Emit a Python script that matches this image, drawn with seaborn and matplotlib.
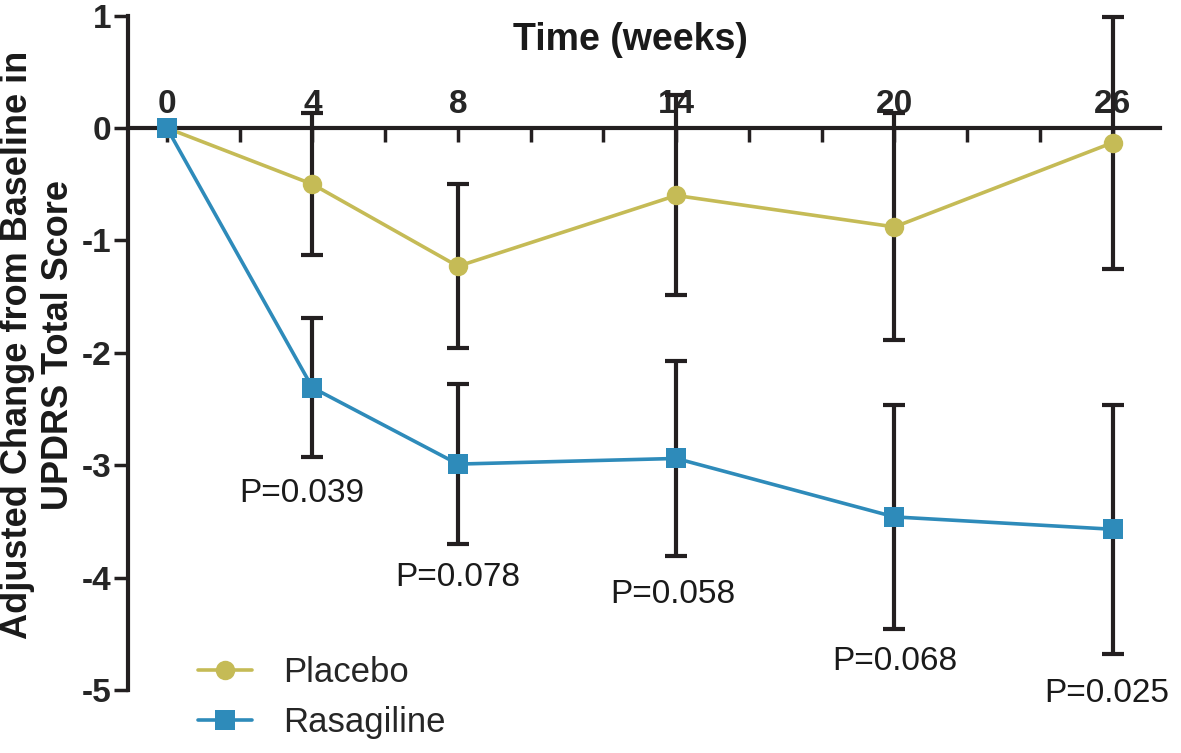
import numpy as np
import pandas as pd
import seaborn as sns
import matplotlib.pyplot as plt

weeks = [0, 4, 8, 14, 20, 26]
groups = ['Placebo', 'Rasagiline']
placebo_mean = [0, -0.50, -1.23, -0.60, -0.88, -0.13]
placebo_se = [0, 0.63, 0.73, 0.89, 1.01, 1.12]
rasagiline_mean = [0, -2.31, -2.99, -2.94, -3.46, -3.57]
rasagiline_se = [0, 0.62, 0.71, 0.87, 1.00, 1.11]
p_labels = ['P=0.039', 'P=0.078', 'P=0.058', 'P=0.068', 'P=0.025']
p_pos = [(3.7, -3.25), (8.0, -4.0), (13.9, -4.15), (20.0, -4.75), (25.85, -5.03)]
y_ticks = [1, 0, -1, -2, -3, -4, -5]

df = pd.DataFrame({
    'week': weeks * 2,
    'change': placebo_mean + rasagiline_mean,
    'group': [groups[0]] * len(weeks) + [groups[1]] * len(weeks),
})

sns.set_style('ticks')
plt.rcParams['font.family'] = ['Liberation Sans', 'DejaVu Sans']

colors = {'Placebo': '#C5BB56', 'Rasagiline': '#2E8BBA'}
black = '#231F20'

fig = plt.figure(figsize=(11.81, 7.53), dpi=100)
ax = fig.add_axes([0.1084, 0.0016, 0.8738, 0.9806])

sns.lineplot(data=df, x='week', y='change', hue='group', style='group',
             hue_order=groups, palette=colors, markers={'Placebo': 'o', 'Rasagiline': 's'},
             dashes=False, markersize=14, markeredgewidth=0, linewidth=2.6,
             ax=ax, zorder=4)

for mean, se in [(placebo_mean, placebo_se), (rasagiline_mean, rasagiline_se)]:
    ax.errorbar(weeks[1:], mean[1:], yerr=se[1:], fmt='none', ecolor=black,
                elinewidth=3, capsize=8, capthick=3, zorder=3)

for txt, (x, y) in zip(p_labels, p_pos):
    ax.text(x, y, txt, ha='center', va='center', fontsize=24, color='#1a1a1a')

ax.set_xlim(-1.07, 27.30)
ax.set_ylim(-5.55, 1.02)

# x axis sits on y=0, labels above, ticks pointing down
ax.spines['bottom'].set_visible(False)
ax.spines['right'].set_visible(False)
ax.spines['top'].set_position(('data', 0))
ax.spines['left'].set_bounds(-5, 1)
for s in ['top', 'left']:
    ax.spines[s].set_linewidth(3)
    ax.spines[s].set_color(black)
ax.xaxis.tick_top()
ax.set_xticks(weeks)
ax.set_xticklabels([str(w) for w in weeks], fontweight='bold', fontsize=24)
ax.set_xticks(np.arange(0, 27, 2), minor=True)
ax.tick_params(axis='x', which='both', direction='in', length=10, width=2.5,
               color=black, pad=6)
ax.set_yticks(y_ticks)
ax.set_yticklabels([str(v) for v in y_ticks], fontweight='bold', fontsize=24)
ax.tick_params(axis='y', direction='out', length=10, width=2.5, color=black, pad=2)
ax.set_xlabel('')
ax.set_ylabel('')

fig.text(630 / 1181, 1 - 40 / 753, 'Time (weeks)', ha='center', va='center',
         fontsize=27, fontweight='bold', color='#1a1a1a')
fig.text(38 / 1181, 1 - 345 / 753, 'Adjusted Change from Baseline in\nUPDRS Total Score',
         rotation=90, ha='center', va='center', multialignment='center',
         fontsize=26, fontweight='bold', color='#1a1a1a')

ax.legend(loc='upper left', bbox_to_anchor=(198 / 1181, 1 - 656 / 753),
          bbox_transform=fig.transFigure, frameon=False, fontsize=25,
          handlelength=1.55, handletextpad=0.9, labelspacing=0.5,
          borderpad=0, borderaxespad=0)

fig.savefig('out.png', dpi=100)
